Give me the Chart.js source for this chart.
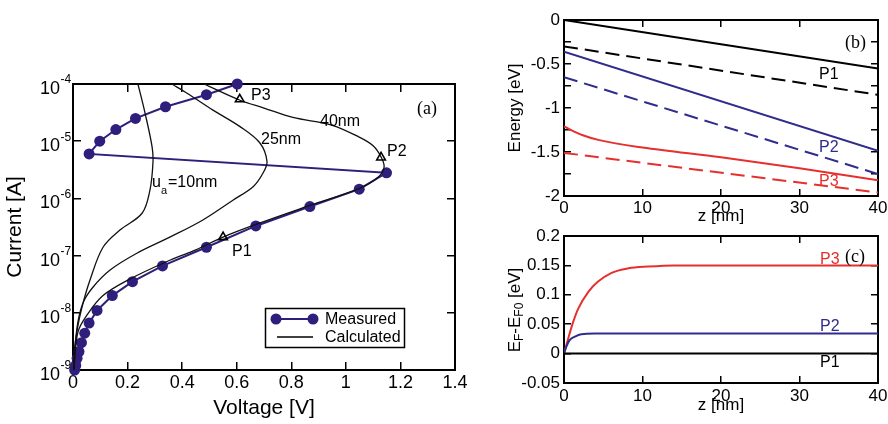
<!DOCTYPE html>
<html>
<head>
<meta charset="utf-8">
<script src="https://cdn.jsdelivr.net/npm/chart.js@4.4.0/dist/chart.umd.min.js"></script>
<style>
  html, body { margin: 0; padding: 0; background: #fff; }
  body { width: 888px; height: 424px; position: relative; overflow: hidden; }
  canvas { position: absolute; }
  #chartA { left: 0; top: 0; }
  #chartB { left: 490px; top: 0; }
  #chartC { left: 490px; top: 226px; }
</style>
</head>
<body>
<canvas id="chartA" width="480" height="424"></canvas>
<canvas id="chartB" width="398" height="230"></canvas>
<canvas id="chartC" width="398" height="198"></canvas>
<script>
// ---- panel (a): current vs voltage ----
const measuredVoltage = [0.006, 0.010, 0.015, 0.022, 0.031, 0.043, 0.059, 0.088, 0.144, 0.218, 0.328, 0.489, 0.670, 0.868, 1.049, 1.149,
                         0.059, 0.098, 0.157, 0.229, 0.339, 0.489, 0.602];
const measuredCurrent = [1.0e-9, 1.2e-9, 1.6e-9, 2.1e-9, 3.0e-9, 4.4e-9, 6.6e-9, 1.1e-8, 2.0e-8, 3.5e-8, 6.6e-8, 1.4e-7, 3.3e-7, 7.2e-7, 1.45e-6, 2.8e-6,
                         6.0e-6, 1.0e-5, 1.6e-5, 2.5e-5, 4.0e-5, 6.5e-5, 1.0e-4];

const calc10Voltage = [0.003, 0.004, 0.015, 0.033, 0.062, 0.110, 0.172, 0.253, 0.282, 0.293, 0.290, 0.264, 0.238];
const calc10Current = [1.0e-9, 2.0e-9, 5.0e-9, 1.26e-8, 3.7e-8, 1.4e-7, 2.8e-7, 5.5e-7, 1.4e-6, 4.2e-6, 7.9e-6, 3.1e-5, 1.0e-4];

const calc25Voltage = [0.003, 0.015, 0.037, 0.073, 0.136, 0.234, 0.355, 0.476, 0.586, 0.660, 0.696, 0.711, 0.685, 0.612, 0.513, 0.418, 0.362];
const calc25Current = [1.0e-9, 5.6e-9, 1.5e-8, 2.8e-8, 5.6e-8, 1.1e-7, 2.1e-7, 4.2e-7, 9.3e-7, 1.6e-6, 2.75e-6, 4.4e-6, 9.3e-6, 1.8e-5, 3.5e-5, 6.9e-5, 1.0e-4];

const calc40Voltage = [0.003, 0.018, 0.051, 0.110, 0.209, 0.355, 0.450, 0.550, 0.670, 0.870, 1.050, 1.120, 1.140, 1.130, 1.100, 1.050, 0.950, 0.806, 0.700, 0.612, 0.480];
const calc40Current = [1.0e-9, 4.6e-9, 9.1e-9, 2.0e-8, 3.9e-8, 8.3e-8, 1.26e-7, 2.1e-7, 3.5e-7, 7.6e-7, 1.5e-6, 2.4e-6, 3.5e-6, 5.2e-6, 8.3e-6, 1.17e-5, 1.9e-5, 2.6e-5, 3.8e-5, 5.2e-5, 1.0e-4];

const pointLabels = ['P1', 'P2', 'P3'];
const pointVoltage = [0.55, 1.129, 0.611];
const pointCurrent = [2.1e-7, 5.2e-6, 5.4e-5];

const voltageRange = [0, 1.4];
const currentRange = [1e-9, 1e-4];
const currentDecades = [1e-9, 1e-8, 1e-7, 1e-6, 1e-5, 1e-4];

// ---- panel (b): energy vs z ----
const zRange = [0, 40];
const energyRange = [-2, 0];
const zLine = [0, 40];
const p1Solid = [0, -0.55];
const p1Dashed = [-0.30, -0.85];
const p2Solid = [-0.36, -1.485];
const p2Dashed = [-0.65, -1.75];
const p3SolidZ = [0, 2.4, 4.5, 10, 20, 30, 40];
const p3Solid = [-1.21, -1.31, -1.365, -1.45, -1.56, -1.685, -1.82];
const p3Dashed = [-1.51, -1.96];

// ---- panel (c): Fermi level shift vs z ----
const fermiRange = [-0.05, 0.2];
const fermiP3Z = [0, 0.5, 1.15, 1.8, 3.1, 4.3, 6.0, 8.2, 10.7, 14, 20, 40];
const fermiP3 = [0, 0.024, 0.053, 0.076, 0.105, 0.122, 0.137, 0.145, 0.148, 0.150, 0.150, 0.150];
const fermiP2Z = [0, 0.3, 0.7, 1.4, 2.2, 3.9, 40];
const fermiP2 = [0, 0.012, 0.0225, 0.029, 0.033, 0.034, 0.034];
const fermiP1Z = [0, 40];
const fermiP1 = [0, 0];

const FONT = 'Liberation Sans, Arial, Helvetica, sans-serif';
const SERIF = 'Liberation Serif, Times New Roman, serif';
const PURPLE = '#301e7c';
const BLUE = '#2e2c8c';
const RED = '#e5302e';

function toPoints(xs, ys) {
    return xs.map((x, i) => ({ x: x, y: ys[i] }));
}

// fixes the chart area so it lands where the reference has it
function fixWidth(w) {
    return function (scale) {
        scale.width = w;
        scale.paddingTop = 0; scale.paddingBottom = 0;
        scale.paddingLeft = 0; scale.paddingRight = 0;
    };
}
function fixHeight(h) {
    return function (scale) {
        scale.height = h;
        scale.paddingTop = 0; scale.paddingBottom = 0;
        scale.paddingLeft = 0; scale.paddingRight = 0;
    };
}

// black axis line with tick marks pointing into the plot
function inwardGrid(len) {
    return { display: true, drawOnChartArea: false, drawTicks: true, tickLength: -len, color: '#000', lineWidth: 1.5 };
}
const blackBorder = { display: true, color: '#000', width: 2 };

// outline of the plot area, drawn along the axis limits
function frameSet(xr, yr) {
    return {
        data: [
            { x: xr[0], y: yr[0] }, { x: xr[1], y: yr[0] },
            { x: xr[1], y: yr[1] }, { x: xr[0], y: yr[1] }, { x: xr[0], y: yr[0] }
        ],
        showLine: true,
        borderColor: '#000',
        borderWidth: 2,
        pointRadius: 0,
        tension: 0,
        clip: false
    };
}

// free text labels inside the plots
const textPlugin = {
    id: 'texts',
    afterDraw(chart, args, opts) {
        const ctx = chart.ctx;
        ctx.save();
        ctx.textBaseline = 'middle';
        ctx.textAlign = 'left';
        (opts.items || []).forEach(item => {
            ctx.fillStyle = item.color || '#000';
            ctx.font = item.font;
            ctx.fillText(item.text, item.x, item.y);
        });
        ctx.restore();
    }
};

// ---------------- panel (a) ----------------
const logTickPlugin = {
    id: 'logTicks',
    afterDraw(chart) {
        const { ctx, scales: { y } } = chart;
        ctx.save();
        ctx.fillStyle = '#000';
        ctx.textBaseline = 'middle';
        y.ticks.forEach(t => {
            const py = y.getPixelForValue(t.value);
            const exp = Math.round(Math.log10(t.value));
            ctx.font = '18px ' + FONT;
            ctx.textAlign = 'right';
            ctx.fillText('10', 60, py + 5);
            ctx.font = '12px ' + FONT;
            ctx.textAlign = 'left';
            ctx.fillText(String(exp), 60.5, py - 4);
        });
        ctx.restore();
    }
};

const legendPlugin = {
    id: 'ivLegend',
    afterDraw(chart) {
        const ctx = chart.ctx;
        ctx.save();
        ctx.strokeStyle = '#000';
        ctx.lineWidth = 1.5;
        ctx.strokeRect(265.5, 308.5, 139, 39);
        // measured
        ctx.strokeStyle = PURPLE;
        ctx.lineWidth = 2;
        ctx.beginPath();
        ctx.moveTo(276, 319); ctx.lineTo(313, 319);
        ctx.stroke();
        ctx.fillStyle = PURPLE;
        [276, 313].forEach(cx => {
            ctx.beginPath();
            ctx.arc(cx, 319, 5.5, 0, Math.PI * 2);
            ctx.fill();
        });
        // calculated
        ctx.strokeStyle = '#000';
        ctx.lineWidth = 1.3;
        ctx.beginPath();
        ctx.moveTo(277, 337); ctx.lineTo(313, 337);
        ctx.stroke();
        ctx.fillStyle = '#000';
        ctx.font = '16px ' + FONT;
        ctx.textBaseline = 'middle';
        ctx.fillText('Measured', 325, 320);
        ctx.fillText('Calculated', 325, 338);
        // u_a label
        ctx.fillText('u', 152, 183);
        ctx.font = '11px ' + FONT;
        ctx.fillText('a', 161, 191);
        ctx.font = '16px ' + FONT;
        ctx.fillText('=10nm', 168, 183);
        ctx.restore();
    }
};

function calcLine(xs, ys) {
    return {
        data: toPoints(xs, ys),
        showLine: true,
        borderColor: '#111',
        borderWidth: 1.3,
        pointRadius: 0,
        tension: 0.35
    };
}

const decadeTicks = s => { s.ticks = currentDecades.map(v => ({ value: v })); };

new Chart(document.getElementById('chartA'), {
    type: 'scatter',
    data: {
        datasets: [
            {
                data: toPoints(pointVoltage, pointCurrent),
                pointStyle: 'triangle',
                pointRadius: 5,
                pointBorderWidth: 1.6,
                pointBorderColor: '#000',
                pointBackgroundColor: 'rgba(255,255,255,0)',
                showLine: false
            },
            calcLine(calc10Voltage, calc10Current),
            calcLine(calc25Voltage, calc25Current),
            calcLine(calc40Voltage, calc40Current),
            {
                data: toPoints(measuredVoltage, measuredCurrent),
                showLine: true,
                borderColor: PURPLE,
                borderWidth: 2,
                pointRadius: 5.5,
                pointBackgroundColor: PURPLE,
                pointBorderColor: PURPLE,
                pointBorderWidth: 0,
                tension: 0,
                clip: false
            },
            frameSet(voltageRange, currentRange)
        ]
    },
    options: {
        responsive: false,
        animation: false,
        layout: { padding: { left: 0, right: 25, top: 84, bottom: 0 } },
        scales: {
            x: {
                type: 'linear', position: 'bottom', min: voltageRange[0], max: voltageRange[1],
                grid: inwardGrid(8),
                border: blackBorder,
                ticks: {
                    stepSize: 0.2, padding: 10, color: '#000', maxRotation: 0, autoSkip: false,
                    font: { size: 18, family: FONT },
                    callback: v => String(Math.round(v * 10) / 10)
                },
                title: {
                    display: true, text: 'Voltage [V]', color: '#000',
                    font: { size: 21, family: FONT }, padding: { top: 0, bottom: 3 }
                },
                afterFit: fixHeight(54)
            },
            x2: {
                type: 'linear', position: 'top', min: voltageRange[0], max: voltageRange[1],
                grid: inwardGrid(8),
                border: blackBorder,
                ticks: { display: false, stepSize: 0.2, maxRotation: 0, autoSkip: false },
                afterFit: fixHeight(0)
            },
            y: {
                type: 'logarithmic', position: 'left', min: currentRange[0], max: currentRange[1],
                grid: inwardGrid(8),
                border: blackBorder,
                ticks: { display: false },
                afterBuildTicks: decadeTicks,
                title: {
                    display: true, text: 'Current [A]', color: '#000',
                    font: { size: 21, family: FONT }, padding: { top: 3, bottom: 0 }
                },
                afterFit: fixWidth(73)
            },
            y2: {
                type: 'logarithmic', position: 'right', min: currentRange[0], max: currentRange[1],
                grid: inwardGrid(8),
                border: blackBorder,
                ticks: { display: false },
                afterBuildTicks: decadeTicks,
                afterFit: fixWidth(0)
            }
        },
        plugins: {
            legend: { display: false },
            tooltip: { enabled: false },
            texts: {
                items: [
                    { text: 'P3', x: 251, y: 96, font: '16px ' + FONT },
                    { text: '40nm', x: 320, y: 122, font: '16px ' + FONT },
                    { text: '25nm', x: 261, y: 140, font: '16px ' + FONT },
                    { text: 'P2', x: 387, y: 152, font: '16px ' + FONT },
                    { text: 'P1', x: 232, y: 252, font: '16px ' + FONT },
                    { text: '(a)', x: 417, y: 109, font: '18px ' + SERIF }
                ]
            }
        }
    },
    plugins: [textPlugin, logTickPlugin, legendPlugin]
});

// ---------------- panel (b) ----------------
function zLineSet(xs, ys, color, dashed) {
    return {
        data: toPoints(xs, ys),
        showLine: true,
        borderColor: color,
        borderWidth: 2,
        borderDash: dashed ? [14, 7] : [],
        pointRadius: 0,
        cubicInterpolationMode: 'monotone'
    };
}

const numLabel = v => String(Math.round(v * 100) / 100);
// energy ticks every 0.25, labels only every 0.5
const halfLabel = v => (Math.abs(v * 2 - Math.round(v * 2)) < 1e-6 ? numLabel(v) : '');

new Chart(document.getElementById('chartB'), {
    type: 'scatter',
    data: {
        datasets: [
            zLineSet(zLine, p1Solid, '#000', false),
            zLineSet(zLine, p1Dashed, '#000', true),
            zLineSet(zLine, p2Solid, BLUE, false),
            zLineSet(zLine, p2Dashed, BLUE, true),
            zLineSet(p3SolidZ, p3Solid, RED, false),
            zLineSet(zLine, p3Dashed, RED, true),
            frameSet(zRange, energyRange)
        ]
    },
    options: {
        responsive: false,
        animation: false,
        layout: { padding: { left: 0, right: 10, top: 20, bottom: 0 } },
        scales: {
            x: {
                type: 'linear', position: 'bottom', min: zRange[0], max: zRange[1],
                grid: inwardGrid(7),
                border: blackBorder,
                ticks: { stepSize: 10, padding: 9, color: '#000', maxRotation: 0, autoSkip: false, font: { size: 17, family: FONT }, callback: numLabel },
                title: {
                    display: true, text: 'z [nm]', color: '#000',
                    font: { size: 17, family: FONT }, padding: { top: 0, bottom: 3 }
                },
                afterFit: fixHeight(34)
            },
            x2: {
                type: 'linear', position: 'top', min: zRange[0], max: zRange[1],
                grid: inwardGrid(7),
                border: blackBorder,
                ticks: { display: false, stepSize: 10, maxRotation: 0, autoSkip: false },
                afterFit: fixHeight(0)
            },
            y: {
                type: 'linear', position: 'left', min: energyRange[0], max: energyRange[1],
                grid: inwardGrid(7),
                border: blackBorder,
                ticks: { stepSize: 0.25, padding: 11, color: '#000', autoSkip: false, font: { size: 17, family: FONT }, callback: halfLabel },
                title: {
                    display: true, text: 'Energy [eV]', color: '#000',
                    font: { size: 17, family: FONT }, padding: { top: 15, bottom: 0 }
                },
                afterFit: fixWidth(74)
            },
            y2: {
                type: 'linear', position: 'right', min: energyRange[0], max: energyRange[1],
                grid: inwardGrid(7),
                border: blackBorder,
                ticks: { display: false, stepSize: 0.25, autoSkip: false },
                afterFit: fixWidth(0)
            }
        },
        plugins: {
            legend: { display: false },
            tooltip: { enabled: false },
            texts: {
                items: [
                    { text: 'P1', x: 329, y: 75, font: '16px ' + FONT },
                    { text: 'P2', x: 329, y: 148, font: '16px ' + FONT, color: BLUE },
                    { text: 'P3', x: 329, y: 182, font: '16px ' + FONT, color: RED },
                    { text: '(b)', x: 355, y: 43, font: '18px ' + SERIF }
                ]
            }
        }
    },
    plugins: [textPlugin]
});

// ---------------- panel (c) ----------------
const fermiTitlePlugin = {
    id: 'fermiTitle',
    afterDraw(chart) {
        const ctx = chart.ctx;
        ctx.save();
        ctx.translate(25, 84);
        ctx.rotate(-Math.PI / 2);
        ctx.fillStyle = '#000';
        ctx.textBaseline = 'middle';
        const parts = [['E', 17, 0], ['F', 12, 5], ['-E', 17, 0], ['F0', 12, 5], [' [eV]', 17, 0]];
        let total = 0;
        parts.forEach(p => { ctx.font = p[1] + 'px ' + FONT; total += ctx.measureText(p[0]).width; });
        let x = -total / 2;
        parts.forEach(p => {
            ctx.font = p[1] + 'px ' + FONT;
            ctx.fillText(p[0], x, p[2]);
            x += ctx.measureText(p[0]).width;
        });
        ctx.restore();
    }
};

new Chart(document.getElementById('chartC'), {
    type: 'scatter',
    data: {
        datasets: [
            zLineSet(fermiP1Z, fermiP1, '#000', false),
            zLineSet(fermiP2Z, fermiP2, BLUE, false),
            zLineSet(fermiP3Z, fermiP3, RED, false),
            frameSet(zRange, fermiRange)
        ]
    },
    options: {
        responsive: false,
        animation: false,
        layout: { padding: { left: 0, right: 10, top: 10, bottom: 0 } },
        scales: {
            x: {
                type: 'linear', position: 'bottom', min: zRange[0], max: zRange[1],
                grid: inwardGrid(7),
                border: blackBorder,
                ticks: { stepSize: 10, padding: 10, color: '#000', maxRotation: 0, autoSkip: false, font: { size: 17, family: FONT }, callback: numLabel },
                title: {
                    display: true, text: 'z [nm]', color: '#000',
                    font: { size: 17, family: FONT }, padding: { top: 0, bottom: 8 }
                },
                afterFit: fixHeight(41)
            },
            x2: {
                type: 'linear', position: 'top', min: zRange[0], max: zRange[1],
                grid: inwardGrid(7),
                border: blackBorder,
                ticks: { display: false, stepSize: 10, maxRotation: 0, autoSkip: false },
                afterFit: fixHeight(0)
            },
            y: {
                type: 'linear', position: 'left', min: fermiRange[0], max: fermiRange[1],
                grid: inwardGrid(7),
                border: blackBorder,
                ticks: { stepSize: 0.05, padding: 11, color: '#000', autoSkip: false, font: { size: 17, family: FONT }, callback: numLabel },
                afterFit: fixWidth(74)
            },
            y2: {
                type: 'linear', position: 'right', min: fermiRange[0], max: fermiRange[1],
                grid: inwardGrid(7),
                border: blackBorder,
                ticks: { display: false, stepSize: 0.05, autoSkip: false },
                afterFit: fixWidth(0)
            }
        },
        plugins: {
            legend: { display: false },
            tooltip: { enabled: false },
            texts: {
                items: [
                    { text: 'P3', x: 330, y: 34, font: '16px ' + FONT, color: RED },
                    { text: 'P2', x: 330, y: 101, font: '16px ' + FONT, color: BLUE },
                    { text: 'P1', x: 330, y: 137, font: '16px ' + FONT },
                    { text: '(c)', x: 355, y: 31, font: '18px ' + SERIF }
                ]
            }
        }
    },
    plugins: [textPlugin, fermiTitlePlugin]
});
</script>
</body>
</html>
